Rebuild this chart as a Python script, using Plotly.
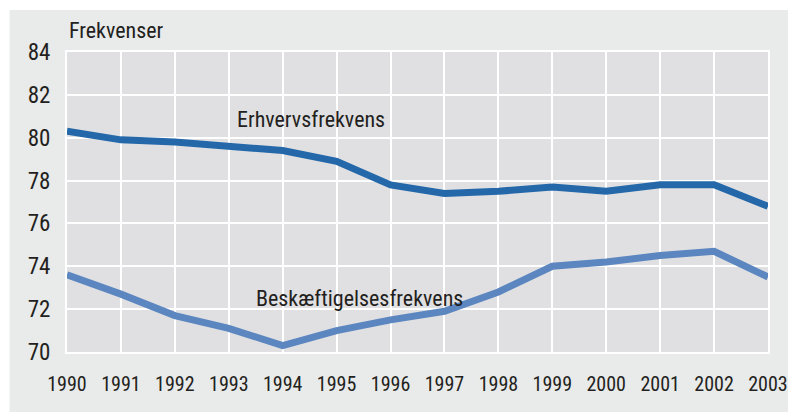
import plotly.graph_objects as go

# ================== DATA ==================
years = list(range(1990, 2004))
erhverv = [80.3, 79.9, 79.8, 79.6, 79.4, 78.9, 77.8, 77.4, 77.5, 77.7, 77.5, 77.8, 77.8, 76.8]
beskaeft = [73.6, 72.7, 71.7, 71.1, 70.3, 71.0, 71.5, 71.9, 72.8, 74.0, 74.2, 74.5, 74.7, 73.5]
y_ticks = [70, 72, 74, 76, 78, 80, 82, 84]

FONT = "Roboto Condensed, Liberation Sans Narrow, sans-serif"
TXT = "#231f20"

fig = go.Figure()
fig.add_trace(go.Scatter(x=years, y=erhverv, mode="lines", name="Erhvervsfrekvens",
                         line=dict(color="#2468aa", width=7)))
fig.add_trace(go.Scatter(x=years, y=beskaeft, mode="lines", name="Beskæftigelsesfrekvens",
                         line=dict(color="#5b86c0", width=7)))

# grey frame + plot panel
fig.add_shape(type="rect", xref="paper", yref="paper", x0=-0.082, x1=1.05, y0=-0.25, y1=1.14,
              fillcolor="#e9eaea", line_width=0, layer="below")
fig.add_shape(type="rect", xref="paper", yref="paper", x0=0, x1=1, y0=0, y1=1,
              fillcolor="#e0e0e2", line_width=0, layer="below")

fig.add_annotation(text="Frekvenser", xref="paper", yref="paper", x=0, y=1.073,
                   xanchor="left", yanchor="middle", showarrow=False,
                   font=dict(family=FONT, size=22, color=TXT))
fig.add_annotation(text="Erhvervsfrekvens", x=1994.52, y=80.83, showarrow=False,
                   font=dict(family=FONT, size=22, color=TXT))
fig.add_annotation(text="Beskæftigelsesfrekvens", x=1995.42, y=72.52, showarrow=False,
                   font=dict(family=FONT, size=22, color=TXT))

fig.update_xaxes(range=[1990, 2003], tickvals=years, showgrid=True, gridcolor="white", gridwidth=2,
                 showline=True, linecolor="white", linewidth=2, mirror=True, zeroline=False,
                 ticks="outside", ticklen=13, tickcolor="rgba(0,0,0,0)", automargin=False,
                 tickfont=dict(family=FONT, size=20, color=TXT))
fig.update_yaxes(range=[70, 84], tickvals=y_ticks, showgrid=True, gridcolor="white", gridwidth=2,
                 showline=True, linecolor="white", linewidth=2, mirror=True, zeroline=False,
                 ticks="outside", ticklen=10, tickcolor="rgba(0,0,0,0)", automargin=False,
                 tickfont=dict(family=FONT, size=23, color=TXT))

# page body has an 8px margin, so size the figure to land where the reference sits
fig.update_layout(
    width=780, height=404,
    margin=dict(l=59, r=20, t=44, b=60),
    paper_bgcolor="white", plot_bgcolor="rgba(0,0,0,0)",
    showlegend=False,
)

fig.write_html("out.html")
